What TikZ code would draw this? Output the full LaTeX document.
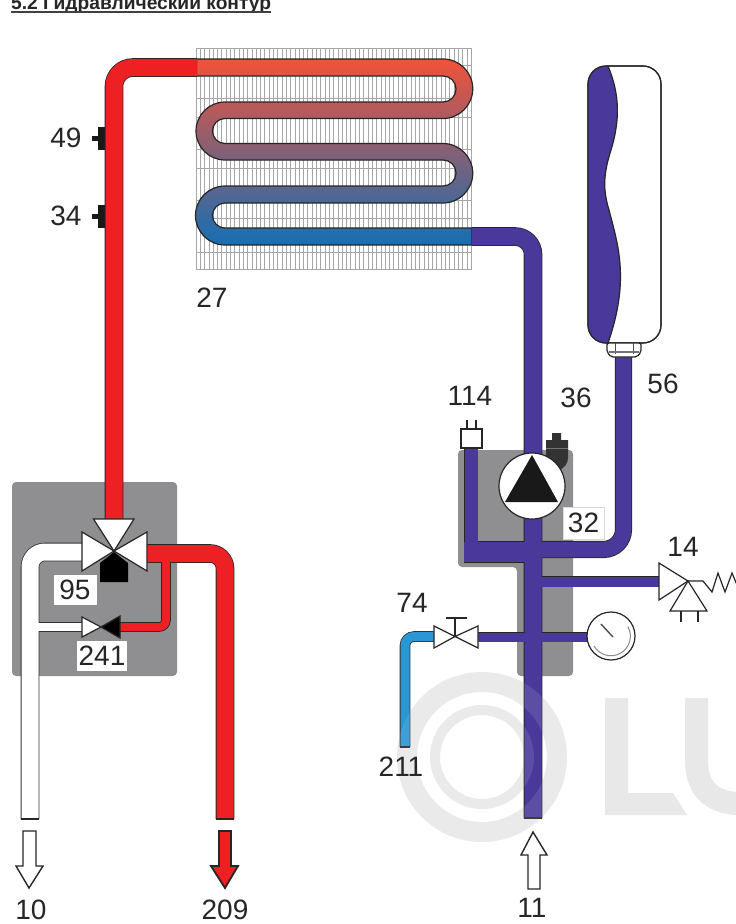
\documentclass[tikz,border=0pt]{standalone}
\usepackage{fontspec}
\setmainfont{Liberation Sans}
\definecolor{hotred}{HTML}{ED2024}
\definecolor{coldblue}{HTML}{4A399B}
\definecolor{skyblue}{HTML}{2A96D4}
\definecolor{boxgray}{HTML}{8F8F91}
\definecolor{markgray}{HTML}{E8E8E8}
\definecolor{coiltop}{HTML}{F1523A}
\definecolor{coilbot}{HTML}{156FB3}
\def\pipeedge{0pt}
\tikzset{
  lbl/.style={font=\fontsize{28}{30}\selectfont,inner sep=0pt,text=black!85},
  tag/.style={lbl,fill=white,minimum width=#1,minimum height=30pt},
  pipe/.style={line width=#1pt+\pipeedge},
  part/.style={draw=black!85,line width=1.2pt,line join=miter},
  fin/.style={draw=black!35,line width=0.7pt},
  ring/.style={line width=#1pt}
}
% all the pipes of one circuit, drawn once for the edge and once for the core
\newcommand{\whitenet}[1]{
\draw[#1,pipe=17,rounded corners=15pt] (30,819) -- (30,552) -- (84,552);
\draw[#1,pipe=8] (30,627) -- (84,627);
}
\newcommand{\rednet}[1]{
\draw[#1,pipe=17,rounded corners=19pt] (197,67.5) -- (114,67.5) -- (114,525);
\draw[#1,pipe=17,rounded corners=15pt] (145,553.5) -- (225,553.5) -- (225,819);
\draw[#1,pipe=8,rounded corners=7pt] (118,627) -- (166,627) -- (166,556);
}
\newcommand{\bluenet}[1]{
\draw[#1,pipe=17,rounded corners=18pt] (472,236.5) -- (533,236.5) -- (533,818);
\draw[#1,pipe=15.5,rounded corners=20pt] (533,549.5) -- (623.5,549.5) -- (623.5,355);
\draw[#1,pipe=13] (471,447) -- (471,552);
\draw[#1,pipe=20] (464,552) -- (533,552);
\draw[#1,pipe=10] (533,581.5) -- (661,581.5);
\draw[#1,pipe=9] (476,637) -- (590,637);
}
\begin{document}
\begin{tikzpicture}[x=1pt,y=-1pt]
\useasboundingbox (0,0) rectangle (736,924);
\clip (0,0) rectangle (736,924);
\fill[white] (0,0) rectangle (736,924);
% title
\node[anchor=base west,inner sep=0pt,font=\fontsize{19.2}{21}\selectfont\bfseries,text=black!85] (title) at (11,9.5) {5.2 Гидравлический контур};
\draw[black!75,line width=1.2pt] (11,12) -- (271,12);
% watermark
\draw[markgray,ring=20] (482,757) circle [radius=75];
\draw[markgray,ring=10] (482,757) circle [radius=47];
\fill[markgray] (605,698) -- (628,698) -- (628,793) -- (673,793) -- (687,815) -- (605,815) -- cycle;
\draw[markgray,line width=23pt] (696.5,698) -- (696.5,760) .. controls (696.5,792) and (715,804) .. (745,804);
% gray boxes
\fill[boxgray,rounded corners=4pt] (12,482) rectangle (177,676);
\fill[boxgray,rounded corners=4pt] (458,450) -- (573,450) -- (573,676) -- (517,676) -- (517,567) -- (458,567) -- cycle;
% fins
\foreach \x in {196,200.3,...,472} \draw[fin] (\x,48) -- (\x,270);
\foreach \y in {48,65,98,117,149,168,200,218,252,269} \draw[fin] (196,\y) -- (472,\y);
% coil
\shade[top color=coiltop,bottom color=coilbot,draw=black!85,line width=1.2pt]
 (196,59) -- (443,59) arc [start angle=-90,end angle=90,radius=29.75]
 -- (225,118.5) arc [start angle=-90,end angle=-270,radius=12.5]
 -- (443,143.5) arc [start angle=-90,end angle=90,radius=29.75]
 -- (225,203) arc [start angle=-90,end angle=-270,radius=12.5]
 -- (472,228) -- (472,245) -- (225,245) arc [start angle=90,end angle=270,radius=29.5]
 -- (443,186) arc [start angle=90,end angle=-90,radius=13]
 -- (225,160) arc [start angle=90,end angle=270,radius=29]
 -- (443,102) arc [start angle=90,end angle=-90,radius=13]
 -- (196,76) -- cycle;
% sensors 49 and 34
\foreach \y in {138,216} {
\fill[black!90] (98,\y-11.5) rectangle (105,\y+11.5);
\fill[black!90] (92,\y-2.5) rectangle (100,\y+2.5);
}
% pipes
\def\pipeedge{1.6pt}
\whitenet{black!80} \rednet{black!85} \bluenet{black!85}
\draw[black!80,pipe=9,rounded corners=9pt] (436,636.5) -- (405,636.5) -- (405,747);
\def\pipeedge{0pt}
\whitenet{white} \rednet{hotred} \bluenet{coldblue}
\draw[skyblue,pipe=9,rounded corners=9pt] (436,636.5) -- (405,636.5) -- (405,747);
% open pipe ends
\draw[black!85,line width=1.2pt] (21,819) -- (39,819) (216,819) -- (234,819) (524,818) -- (542,818) (400,747) -- (410,747);
% watermark seen through the inlet pipe
\draw[white,opacity=0.1,ring=20] (482,757) circle [radius=75];
\draw[white,opacity=0.1,ring=10] (482,757) circle [radius=47];
% valve 95
\fill[black] (114,552) -- (128,563) -- (128,582) -- (100,582) -- (100,563) -- cycle;
\draw[part,fill=white] (114,551) -- (93.5,519) -- (134,519) -- cycle;
\draw[part,fill=white] (114,551) -- (82,532) -- (82,571) -- cycle;
\draw[part,fill=white] (114,551) -- (147,532) -- (147,571) -- cycle;
\node[tag=43pt] (n95) at (75,590) {95};
% valve 241
\draw[part,fill=white] (101,627) -- (82,617) -- (82,637) -- cycle;
\draw[part,fill=black] (101,627) -- (120,616) -- (120,638) -- cycle;
\node[tag=50pt] (n241) at (102,656) {241};
% valve 74
\draw[part,fill=white] (455,636.5) -- (434,626) -- (434,648) -- cycle;
\draw[part,fill=white] (455,636.5) -- (478,626) -- (478,648) -- cycle;
\draw[part] (455,636.5) -- (455,618) (446,618) -- (467,618);
% valve 14 with its spring
\draw[part,fill=white] (688,581) -- (659,563) -- (659,600) -- cycle;
\draw[part,fill=white] (688,581) -- (670,611) -- (707,611) -- cycle;
\draw[part] (681,611) -- (681,622) (698,611) -- (698,622);
\draw[part] (688,581) -- (703,581) -- (712,592) -- (718,573) -- (725,592) -- (732,573) -- (740,592);
% gauge
\draw[part,fill=white] (611,636) circle [radius=24];
\draw[black!45,line width=1pt] (594,646) arc [start angle=150,end angle=-30,radius=19.5];
\draw[black!70,line width=1.4pt] (601,624) -- (613,637);
% plug 114
\draw[part,fill=white] (461,429) rectangle (482,448);
\draw[part] (467,429) -- (467,420) (476,429) -- (476,420);
% vent 36
\fill[black!80] (552,433) -- (561,433) -- (561,440) -- (568,440) -- (568,458) .. controls (568,464) and (564,468) .. (558,471) -- (546,462) -- (546,440) -- (552,440) -- cycle;
\draw[black!55,line width=0.7pt] (546,448) -- (568,448);
% pump
\draw[part,fill=white] (532,486) circle [radius=33];
\fill[black!90] (532,455) -- (558,502) -- (505,502) -- cycle;
\node[tag=41pt,minimum height=32pt,draw=black!15] (n32) at (583.5,523) {32};
% vessel 56
\draw[part,fill=white,rounded corners=18pt] (588,66) rectangle (661,343);
\begin{scope}
\clip[rounded corners=18pt] (588,66) rectangle (661,343);
\fill[coldblue] (580,60) -- (608,66) .. controls (620,95) and (620,120) .. (611,150) .. controls (603,175) and (603,190) .. (609,210) .. controls (618,245) and (630,280) .. (608,343) -- (580,350) -- cycle;
\end{scope}
\draw[black!85,line width=1.2pt] (608,66) .. controls (620,95) and (620,120) .. (611,150) .. controls (603,175) and (603,190) .. (609,210) .. controls (618,245) and (630,280) .. (608,343);
\draw[part,rounded corners=18pt] (588,66) rectangle (661,343);
\draw[part,fill=white,rounded corners=2pt] (607,343) -- (641,343) -- (641,352) -- (637,357) -- (611,357) -- (607,352) -- cycle;
\draw[black!70,line width=0.8pt] (615,343) -- (615,354) (633,343) -- (633,354);
\draw[black!55,line width=1.2pt] (609,352) -- (639,352);
% flow arrows
\draw[part,fill=white,line width=1.4pt] (23,831) -- (36,831) -- (36,866) -- (43,866) -- (29,888) -- (16,866) -- (23,866) -- cycle;
\draw[part,fill=hotred,line width=1.8pt] (219,831) -- (231,831) -- (231,866) -- (238,866) -- (225,888) -- (211,866) -- (219,866) -- cycle;
\draw[part,fill=white,line width=1.4pt] (533,832) -- (547,855) -- (540,855) -- (540,889) -- (528,889) -- (528,855) -- (521,855) -- cycle;
% numbers
\node[lbl] (n49) at (66,138) {49};
\node[lbl] (n34) at (66,216) {34};
\node[lbl] (n27) at (212,298) {27};
\node[lbl] (n114) at (470,396) {114};
\node[lbl] (n36) at (576,398) {36};
\node[lbl] (n56) at (663,384) {56};
\node[lbl] (n14) at (683,547) {14};
\node[lbl] (n74) at (412,603) {74};
\node[lbl] (n211) at (401,767) {211};
\node[lbl] (n10) at (31,910) {10};
\node[lbl] (n209) at (225,910) {209};
\node[lbl] (n11) at (532,908) {11};
\end{tikzpicture}
\end{document}
